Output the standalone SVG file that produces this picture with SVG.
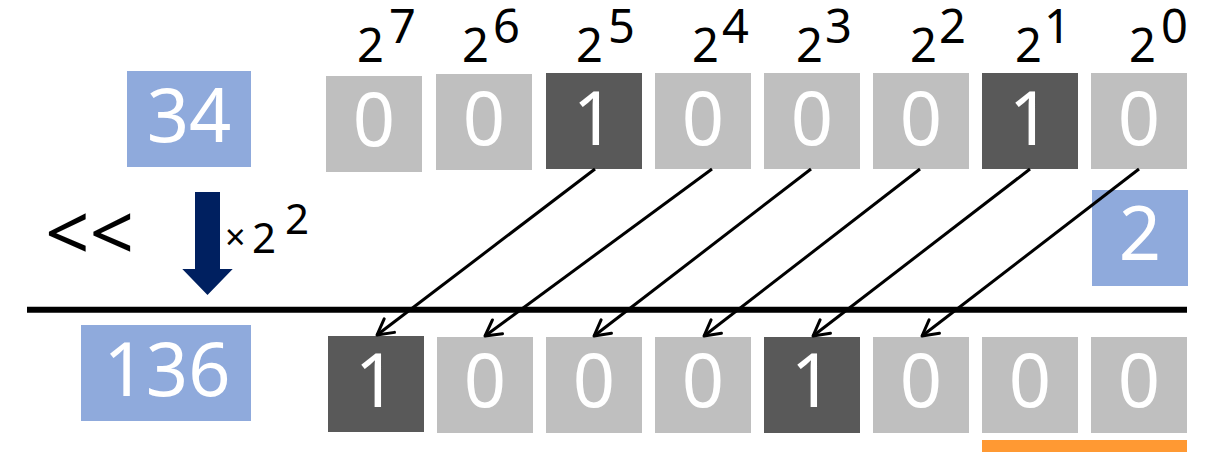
<svg xmlns="http://www.w3.org/2000/svg" width="1205" height="471" viewBox="0 0 1205 471">
<defs>
<style>
.t{font-family:"Noto Sans","DejaVu Sans",sans-serif;}
.big{font-size:74px;fill:#fff;text-anchor:middle;}
.exp{font-size:47px;fill:#000;}
.blue{fill:#8FAADC;}
.lg{fill:#BFBFBF;}
.dg{fill:#595959;}
.con{stroke:#000;stroke-width:3;fill:none;}
</style>
<marker id="ah" markerUnits="userSpaceOnUse" markerWidth="40" markerHeight="40" refX="0" refY="0" viewBox="-20 -20 40 40" orient="auto" overflow="visible">
<path d="M -15.5 -8.5 L 0 0 L -15.5 8.5" fill="none" stroke="#000" stroke-width="3" stroke-linecap="round" stroke-linejoin="round"/>
</marker>
</defs>
<rect width="1205" height="471" fill="#fff"/>

<g id="exponents" class="t exp">
<text x="357" y="62">2</text><text x="389" y="43">7</text>
<text x="462" y="62">2</text><text x="493" y="43">6</text>
<text x="576" y="62">2</text><text x="608" y="43">5</text>
<text x="692" y="62">2</text><text x="722" y="43">4</text>
<text x="796" y="62">2</text><text x="825" y="43">3</text>
<text x="910" y="62">2</text><text x="939" y="43">2</text>
<text x="1015" y="62">2</text><text x="1044" y="43">1</text>
<text x="1129" y="62">2</text><text x="1161" y="43">0</text>
</g>

<g id="n34">
<rect class="blue" x="127" y="71" width="124" height="96"/>
<text class="t big" x="189" y="142">34</text>
</g>

<g id="top-bits">
<g id="tb7"><rect class="lg" x="326" y="76" width="96" height="96"/><text class="t big" x="374" y="146">0</text></g>
<g id="tb6"><rect class="lg" x="436" y="74" width="96" height="96"/><text class="t big" x="484" y="145">0</text></g>
<g id="tb5"><rect class="dg" x="546" y="73" width="96" height="96"/><text class="t big" x="594" y="145">1</text></g>
<g id="tb4"><rect class="lg" x="655" y="73" width="96" height="96"/><text class="t big" x="703" y="145">0</text></g>
<g id="tb3"><rect class="lg" x="764" y="73" width="96" height="96"/><text class="t big" x="812" y="145">0</text></g>
<g id="tb2"><rect class="lg" x="873" y="73" width="96" height="96"/><text class="t big" x="921" y="145">0</text></g>
<g id="tb1"><rect class="dg" x="982" y="73" width="96" height="96"/><text class="t big" x="1030" y="145">1</text></g>
<g id="tb0"><rect class="lg" x="1091" y="73" width="96" height="96"/><text class="t big" x="1139" y="145">0</text></g>
</g>

<g id="shift-label">
<text class="t" x="45" y="261" font-size="78" fill="#000">&lt;&lt;</text>
</g>

<g id="mult-arrow">
<path d="M195 192 H220 V269 H232.7 L207.5 295 L182.3 269 H195 Z" fill="#002060"/>
<text class="t" x="225" y="250" font-size="36" fill="#000">×</text>
<text class="t" x="252" y="253" font-size="42" fill="#000">2</text>
<text class="t" x="285" y="234" font-size="42" fill="#000">2</text>
</g>

<g id="n2">
<rect class="blue" x="1092" y="190" width="96" height="96"/>
<text class="t big" x="1140" y="260">2</text>
</g>

<g id="divider">
<line x1="27" y1="309.7" x2="1187" y2="309.7" stroke="#000" stroke-width="6"/>
</g>

<g id="n136">
<rect class="blue" x="81" y="325" width="170" height="96"/>
<text class="t big" x="167" y="396">136</text>
</g>

<g id="bottom-bits">
<g id="bb7"><rect class="dg" x="328" y="336" width="96" height="96"/><text class="t big" x="376" y="407">1</text></g>
<g id="bb6"><rect class="lg" x="437" y="337" width="96" height="96"/><text class="t big" x="485" y="407">0</text></g>
<g id="bb5"><rect class="lg" x="546" y="337" width="96" height="96"/><text class="t big" x="594" y="407">0</text></g>
<g id="bb4"><rect class="lg" x="655" y="337" width="96" height="96"/><text class="t big" x="703" y="407">0</text></g>
<g id="bb3"><rect class="dg" x="764" y="337" width="96" height="96"/><text class="t big" x="812" y="407">1</text></g>
<g id="bb2"><rect class="lg" x="873" y="337" width="96" height="96"/><text class="t big" x="921" y="407">0</text></g>
<g id="bb1"><rect class="lg" x="982" y="337" width="96" height="96"/><text class="t big" x="1030" y="407">0</text></g>
<g id="bb0"><rect class="lg" x="1091" y="337" width="96" height="96"/><text class="t big" x="1139" y="407">0</text></g>
</g>

<g id="underline">
<rect x="982" y="440" width="205" height="12" fill="#FF9933"/>
</g>

<g id="connectors" class="con">
<line x1="595" y1="169" x2="377" y2="335" marker-end="url(#ah)"/>
<line x1="712" y1="169" x2="485" y2="336" marker-end="url(#ah)"/>
<line x1="811" y1="169" x2="594" y2="336" marker-end="url(#ah)"/>
<line x1="920" y1="169" x2="704" y2="336" marker-end="url(#ah)"/>
<line x1="1030" y1="169" x2="813" y2="336" marker-end="url(#ah)"/>
<line x1="1139" y1="169" x2="922" y2="336" marker-end="url(#ah)"/>
</g>
</svg>
